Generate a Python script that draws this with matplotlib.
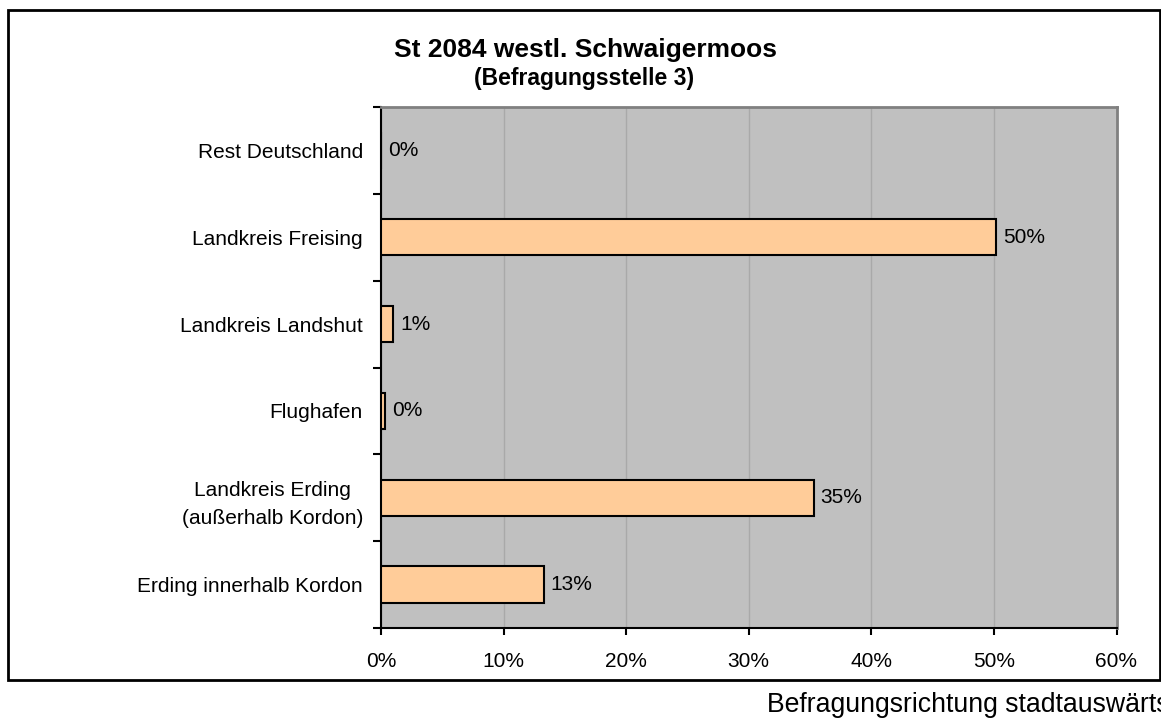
import matplotlib
matplotlib.use('Agg')
import matplotlib.pyplot as plt
from matplotlib.patches import Rectangle
import numpy as np

plt.rcParams['font.family'] = ['Liberation Sans', 'DejaVu Sans']

categories = ['Erding innerhalb Kordon', 'Landkreis Erding\n(außerhalb Kordon)', 'Flughafen',
              'Landkreis Landshut', 'Landkreis Freising', 'Rest Deutschland']
values = [13.3, 35.3, 0.35, 1.0, 50.2, 0.0]
xticks = [0, 10, 20, 30, 40, 50, 60]
xticklabels = ['0%', '10%', '20%', '30%', '40%', '50%', '60%']
title = 'St 2084 westl. Schwaigermoos'
subtitle = '(Befragungsstelle 3)'
footer = 'Befragungsrichtung stadtauswärts'

W, H = 1161, 720
fig = plt.figure(figsize=(W / 100, H / 100), dpi=100)
fig.patch.set_facecolor('white')

ax = fig.add_axes([381 / W, 1 - 628 / H, (1116.5 - 381) / W, (628 - 107) / H])
ax.set_facecolor('#C0C0C0')
y = np.arange(len(categories))
ax.barh(y, values, height=0.42, color='#FFCC99', edgecolor='black', linewidth=1.5, zorder=3)
ax.set_xlim(0, 60)
ax.set_ylim(-0.5, len(categories) - 0.5)

ax.set_xticks(xticks)
ax.set_xticklabels(xticklabels, fontsize=15)
ax.tick_params(axis='x', length=5, width=1.5, direction='out', pad=12.5, colors='black')

ax.set_yticks(y)
ax.set_yticklabels(categories, fontsize=15)
for lab in ax.get_yticklabels():
    lab.set_multialignment('center')
    lab.set_linespacing(1.6)
ax.set_yticks(np.arange(-0.5, len(categories), 1), minor=True)
ax.tick_params(axis='y', which='major', length=0, pad=13)
ax.tick_params(axis='y', which='minor', length=6, width=1.5, direction='out')

ax.grid(axis='x', color='#A9A9A9', linewidth=1, zorder=0)
ax.set_axisbelow(True)

ax.spines['left'].set_color('black')
ax.spines['left'].set_linewidth(1.5)
ax.spines['bottom'].set_color('black')
ax.spines['bottom'].set_linewidth(1.5)
for s in ('top', 'right'):
    ax.spines[s].set_color('#808080')
    ax.spines[s].set_linewidth(2)

for yi, v in zip(y, values):
    ax.text(v + 0.55, yi, f'{round(v)}%', va='center', ha='left', fontsize=15, zorder=4)

fig.text(586 / W, 1 - 57 / H, title, ha='center', va='baseline', fontsize=19, weight='bold')
fig.text(584 / W, 1 - 85 / H, subtitle, ha='center', va='baseline', fontsize=16.5, weight='bold')
fig.text(767 / W, 1 - 712 / H, footer, ha='left', va='baseline', fontsize=19.2)

fig.patches.append(Rectangle((8 / W, 1 - 680 / H), (1160 - 8) / W, (680 - 10) / H,
                             transform=fig.transFigure, fill=False, edgecolor='black',
                             linewidth=2, zorder=10))

fig.savefig('out.png', dpi=100)
